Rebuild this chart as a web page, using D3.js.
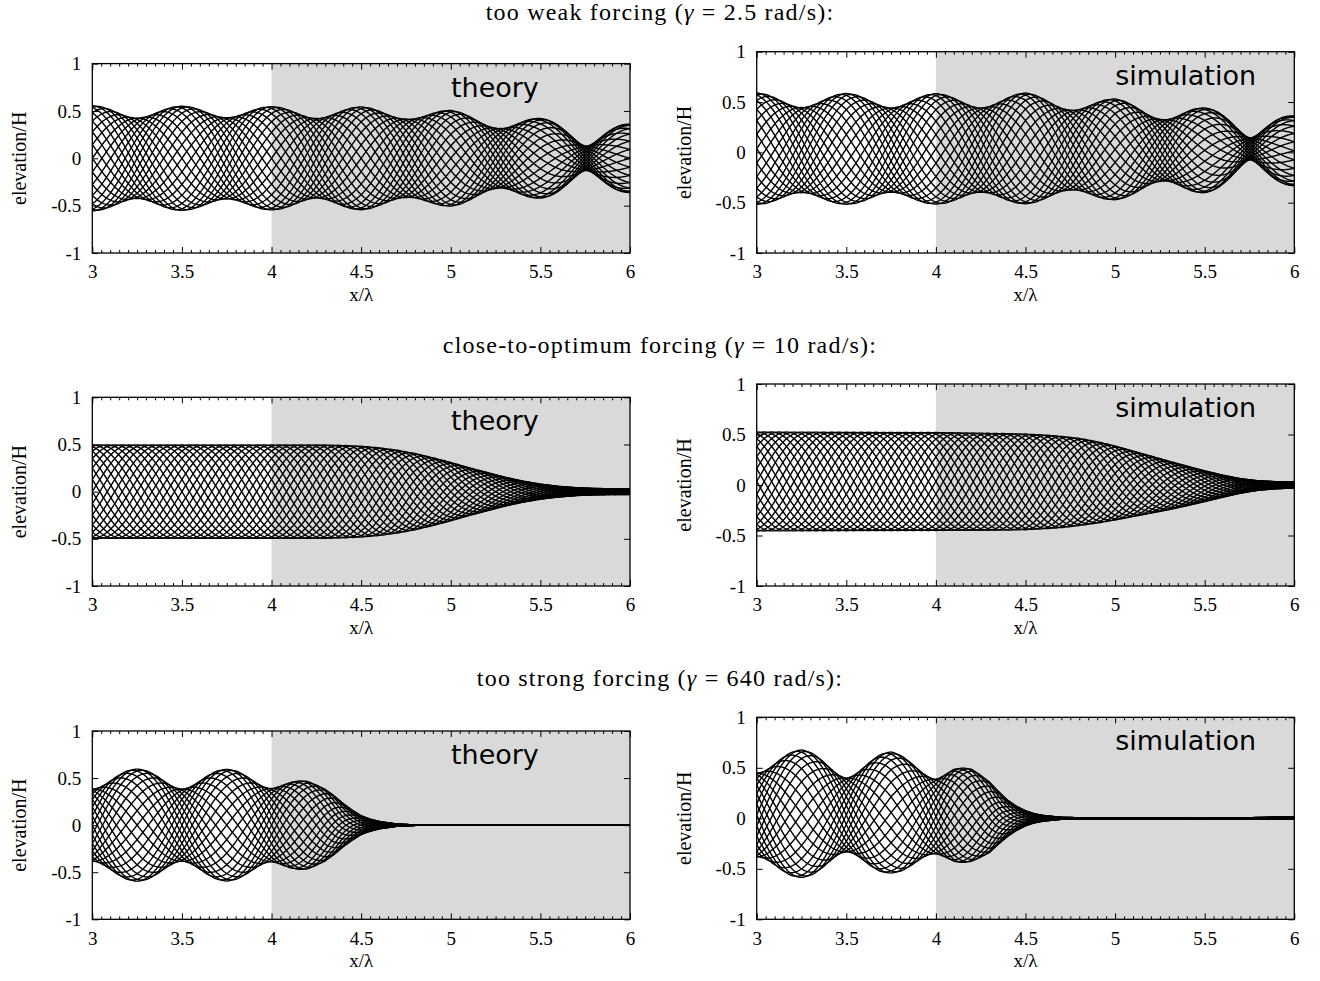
<!DOCTYPE html>
<html>
<head>
<meta charset="utf-8">
<script src="https://cdn.jsdelivr.net/npm/d3@7"></script>
<style>
  body { margin: 0; background: #fff; }
  text { fill: #000; }
</style>
</head>
<body>
<svg id="fig" width="1320" height="981"></svg>
<script>
// snapshot phases (deg) of the wave over one period
const PHASES_DEG = [0, 15, 30, 45, 60, 75, 90, 105, 120, 135, 150, 165,
                    180, 195, 210, 225, 240, 255, 270, 285, 300, 315, 330, 345];

const X_TICKS = [3, 3.5, 4, 4.5, 5, 5.5, 6];
const X_TICK_LABELS = ["3", "3.5", "4", "4.5", "5", "5.5", "6"];
const Y_TICKS = [-1, -0.5, 0, 0.5, 1];
const Y_TICK_LABELS = ["-1", "-0.5", "0", "0.5", "1"];
const FORCING_START = 4;   // start of grey forcing zone, x/λ

const ROW_TITLES = [
    ["too weak forcing (", "2.5"],
    ["close-to-optimum forcing (", "10"],
    ["too strong forcing (", "640"]
];
const PANEL_LABELS = ["theory", "simulation"];

// amplitudes (elevation/H), incident / reflected / mean level
// weak forcing
const weakTheoryX   = [3, 3.25, 3.5, 3.75, 4, 4.25, 4.5, 4.75, 5, 5.25, 5.5, 5.75, 6];
const weakTheoryInc = [.49, .489, .489, .489, .485, .483, .48, .47, .438, .39, .32, .26, .22];
const weakTheoryRef = [.065, .064, .061, .059, .06, .062, .063, .055, .067, .07, .10, .13, .14];
const weakTheoryMean = [0, 0, 0, 0, 0, 0, 0, 0, 0, 0, 0, 0, 0];

const weakSimX   = [3, 3.25, 3.5, 3.75, 4, 4.25, 4.5, 4.75, 5, 5.25, 5.5, 5.75, 6];
const weakSimInc = [.4875, .487, .4855, .4845, .484, .4845, .4795, .4615, .427, .385, .315, .246, .2125];
const weakSimRef = [.065, .064, .0645, .0645, .064, .0645, .0705, .0635, .073, .075, .105, .136, .1325];
const weakSimMean = [.037, .022, .035, .022, .035, .022, .04, .022, .03, .02, .02, .035, .015];

// close-to-optimum forcing
const optTheoryX   = [3, 4, 4.3, 4.4, 4.5, 4.6, 4.7, 4.8, 4.9, 5, 5.1, 5.2, 5.3, 5.4, 5.5, 5.6, 5.7, 5.8, 5.9, 6];
const optTheoryInc = [.495, .495, .495, .49, .482, .465, .44, .405, .36, .31, .255, .205, .155, .113, .08, .057, .042, .034, .031, .03];
const optTheoryRef = optTheoryX.map(() => 0);
const optTheoryMean = optTheoryX.map(() => 0);

const optSimX   = [3, 4, 4.2, 4.4, 4.5, 4.6, 4.7, 4.8, 4.9, 5, 5.1, 5.2, 5.3, 5.4, 5.5, 5.6, 5.7, 5.8, 5.9, 6];
const optSimInc = [.49, .485, .482, .478, .474, .465, .452, .432, .403, .367, .325, .283, .241, .197, .153, .11, .072, .047, .035, .03];
const optSimRef = optSimX.map(() => 0);
const optSimMean = [.035, .035, .033, .031, .031, .031, .03, .03, .026, .02, .012, .004, -.004, -.009, -.012, -.012, -.009, -.005, -.002, 0];

// too strong forcing
const strongTheoryX   = [3, 3.5, 4, 4.1, 4.2, 4.3, 4.35, 4.4, 4.45, 4.5, 4.55, 4.6, 4.7, 4.8, 4.9, 6];
const strongTheoryInc = [.49, .49, .49, .465, .44, .372, .31, .23, .16, .10, .065, .04, .012, .003, 0, 0];
const strongTheoryRef = [-.105, -.105, -.10, -.06, -.03, -.01, -.005, 0, 0, 0, 0, 0, 0, 0, 0, 0];
const strongTheoryMean = strongTheoryX.map(() => 0);

const strongSimX   = [3, 3.25, 3.5, 3.75, 4, 4.1, 4.2, 4.3, 4.35, 4.4, 4.45, 4.5, 4.55, 4.6, 4.7, 4.8, 5, 5.5, 5.8, 6];
const strongSimInc = [.5285, .511, .4905, .4825, .47, .47, .43, .34, .26, .18, .12, .075, .045, .028, .01, .006, .004, .004, .008, .012];
const strongSimRef = [-.1115, -.119, -.1235, -.1155, -.10, -.065, -.03, -.01, 0, 0, 0, 0, 0, 0, 0, 0, 0, 0, 0, 0];
const strongSimMean = [.033, .046, .033, .058, .017, .03, .03, .01, .005, 0, 0, 0, 0, 0, 0, 0, -.003, -.004, 0, .004];

const panels = [
    { row: 0, col: 0, x: weakTheoryX, inc: weakTheoryInc, ref: weakTheoryRef, mean: weakTheoryMean },
    { row: 0, col: 1, x: weakSimX, inc: weakSimInc, ref: weakSimRef, mean: weakSimMean },
    { row: 1, col: 0, x: optTheoryX, inc: optTheoryInc, ref: optTheoryRef, mean: optTheoryMean },
    { row: 1, col: 1, x: optSimX, inc: optSimInc, ref: optSimRef, mean: optSimMean },
    { row: 2, col: 0, x: strongTheoryX, inc: strongTheoryInc, ref: strongTheoryRef, mean: strongTheoryMean },
    { row: 2, col: 1, x: strongSimX, inc: strongSimInc, ref: strongSimRef, mean: strongSimMean }
];

// layout
const COL_X = [[92.3, 630], [756.7, 1294.3]];
const ROW_TOP = [[63.6, 51.7], [397.3, 384], [731, 717.3]];
const ROW_BOTTOM = [253, 586, 919.3];
const TITLE_Y = [20, 353, 686];

const serif = "'Liberation Serif', 'Times New Roman', serif";
const sans = "'DejaVu Sans', sans-serif";

let svg = d3.select("#fig");
svg.append("rect").attr("width", 1320).attr("height", 981).attr("fill", "#fff");

// row titles
ROW_TITLES.forEach((t, i) => {
    let txt = svg.append("text")
        .attr("x", 660).attr("y", TITLE_Y[i])
        .attr("text-anchor", "middle")
        .style("font-family", serif)
        .style("font-size", "24px")
        .style("letter-spacing", "1.2px");
    txt.append("tspan").text(t[0]);
    txt.append("tspan").style("font-style", "italic").text("γ");
    txt.append("tspan").text(" = " + t[1] + " rad/s):");
});

// x samples where each snapshot is evaluated
const xs = d3.range(0, 751).map(i => 3 + i * 0.004);

panels.forEach((p, idx) => {
    let x0 = COL_X[p.col][0], x1 = COL_X[p.col][1];
    let yt = ROW_TOP[p.row][p.col], yb = ROW_BOTTOM[p.row];

    let x = d3.scaleLinear().domain([3, 6]).range([x0, x1]);
    let y = d3.scaleLinear().domain([-1, 1]).range([yb, yt]);

    let incS = d3.scaleLinear().domain(p.x).range(p.inc).clamp(true);
    let refS = d3.scaleLinear().domain(p.x).range(p.ref).clamp(true);
    let meanS = d3.scaleLinear().domain(p.x).range(p.mean).clamp(true);

    let g = svg.append("g");

    g.append("clipPath").attr("id", "clip" + idx)
        .append("rect")
        .attr("x", x0).attr("y", yt)
        .attr("width", x1 - x0).attr("height", yb - yt);

    // grey forcing zone
    g.append("rect")
        .attr("x", x(FORCING_START)).attr("y", yt)
        .attr("width", x(6) - x(FORCING_START)).attr("height", yb - yt)
        .attr("fill", "#d9d9d9");

    // wave snapshots
    let line = d3.line().x(d => x(d[0])).y(d => y(d[1]));
    let curves = PHASES_DEG.map(deg => {
        let th = deg * Math.PI / 180;
        return xs.map(v => {
            let k = 2 * Math.PI * v;
            return [v, meanS(v) + incS(v) * Math.cos(k - th) + refS(v) * Math.cos(k + th)];
        });
    });
    g.append("g").attr("clip-path", "url(#clip" + idx + ")")
        .selectAll("path")
        .data(curves)
        .enter()
        .append("path")
        .attr("d", line)
        .attr("fill", "none")
        .attr("stroke", "#000")
        .attr("stroke-width", 1.4)
        .attr("stroke-linejoin", "round");

    // axes, ticks pointing inward
    let minor = d3.range(0, 61).map(i => 3 + i * 0.05).filter(v => Math.abs(v * 2 - Math.round(v * 2)) > 1e-6);

    g.append("g").attr("transform", `translate(0,${yb})`)
        .call(d3.axisBottom(x).tickValues(X_TICKS).tickSize(-6).tickPadding(12)
            .tickFormat((d, i) => X_TICK_LABELS[i]));
    g.append("g").attr("transform", `translate(0,${yb})`)
        .call(d3.axisBottom(x).tickValues(minor).tickSize(-3).tickFormat(""));
    g.append("g").attr("transform", `translate(0,${yt})`)
        .call(d3.axisTop(x).tickValues(X_TICKS).tickSize(-6).tickFormat(""));
    g.append("g").attr("transform", `translate(0,${yt})`)
        .call(d3.axisTop(x).tickValues(minor).tickSize(-3).tickFormat(""));
    g.append("g").attr("transform", `translate(${x0},0)`)
        .call(d3.axisLeft(y).tickValues(Y_TICKS).tickSize(-6).tickPadding(11)
            .tickFormat((d, i) => Y_TICK_LABELS[i]));
    g.append("g").attr("transform", `translate(${x1},0)`)
        .call(d3.axisRight(y).tickValues(Y_TICKS).tickSize(-6).tickFormat(""));

    g.selectAll(".domain").remove();
    g.selectAll(".tick line").attr("stroke", "#000").attr("stroke-width", 1);
    g.selectAll(".tick text")
        .style("font-family", serif)
        .style("font-size", "19px")
        .attr("fill", "#000");

    // frame
    g.append("rect")
        .attr("x", x0).attr("y", yt)
        .attr("width", x1 - x0).attr("height", yb - yt)
        .attr("fill", "none").attr("stroke", "#000").attr("stroke-width", 1.3);

    // panel label
    g.append("text")
        .attr("x", x0 + (x1 - x0) * 0.667).attr("y", yt + 33)
        .style("font-family", sans)
        .style("font-size", "27px")
        .text(PANEL_LABELS[p.col]);

    // axis titles
    g.append("text")
        .attr("transform", `translate(${x0 - 66},${(yt + yb) / 2}) rotate(-90)`)
        .attr("text-anchor", "middle")
        .style("font-family", serif)
        .style("font-size", "20px")
        .text("elevation/H");
    g.append("text")
        .attr("x", (x0 + x1) / 2).attr("y", yb + 48)
        .attr("text-anchor", "middle")
        .style("font-family", serif)
        .style("font-size", "19px")
        .text("x/λ");
});
</script>
</body>
</html>
